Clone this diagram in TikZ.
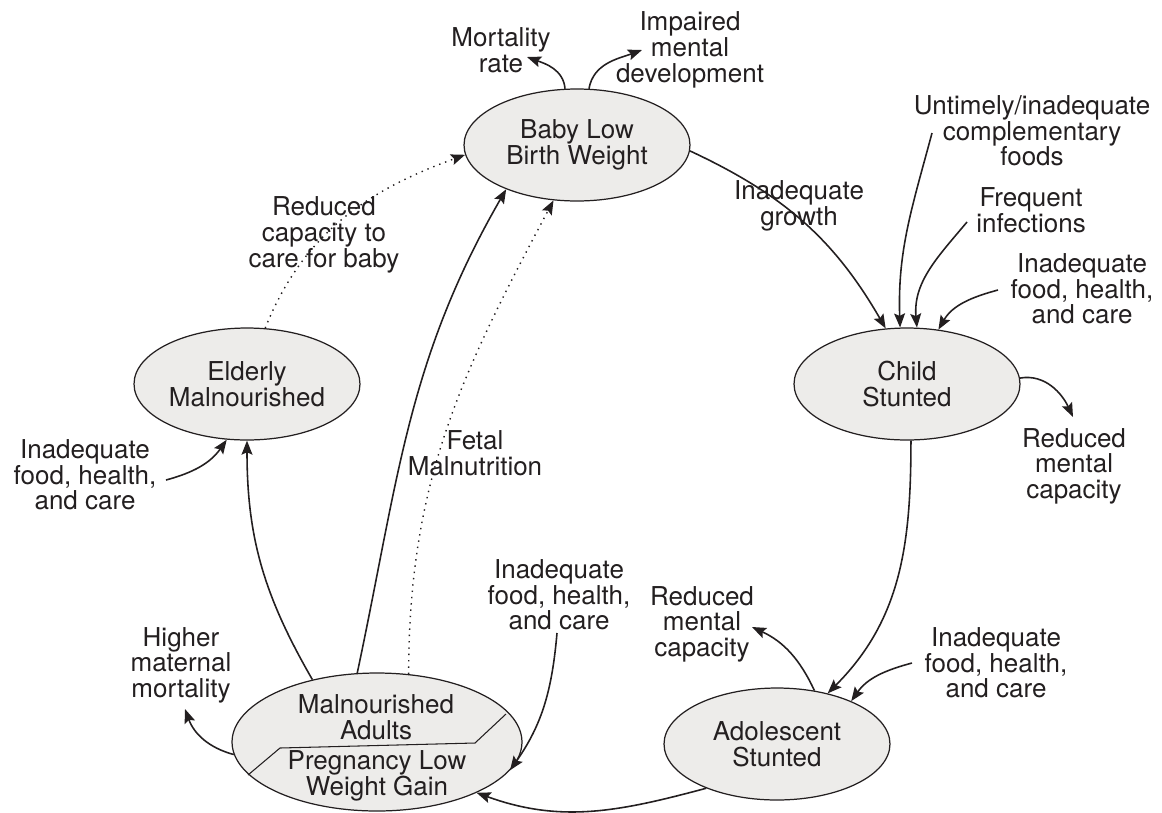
\documentclass[tikz,border=0pt]{standalone}
\usepackage{fontspec}
\setmainfont{TeX Gyre Heros}
\usepackage{tikz}
\usetikzlibrary{shapes.geometric, arrows.meta, calc}
\definecolor{cycGray}{RGB}{237,236,234}
\definecolor{cycInk}{RGB}{35,31,32}

\begin{document}
\begin{tikzpicture}[x=0.02cm, y=0.02cm,
    every node/.append style={font=\fontsize{14.8}{14.6}\selectfont},
    stage/.style={ellipse, draw=cycInk, line width=0.7pt, fill=cycGray, minimum width=4.52cm, minimum height=2.24cm, inner sep=0pt, align=center, text=cycInk},
    lbl/.style={align=center, inner sep=0pt, text=cycInk},
    flow/.style={-{Stealth[length=8pt, width=6.2pt, inset=1.4pt]}, line width=0.9pt, draw=cycInk},
    weak/.style={flow, line width=0.8pt, dash pattern=on 0.8pt off 2.8pt}]
  \useasboundingbox (0,0) rectangle (1162,-812);

  % Life stages
  \node[stage] (baby) at (577,-145) {Baby Low\\Birth Weight};
  \node[stage] (child) at (907,-384) {Child\\Stunted};
  \node[stage] (teen) at (777,-744) {Adolescent\\Stunted};
  \node[stage] (elder) at (247,-384) {Elderly\\Malnourished};
  \node[stage, minimum width=5.8cm, minimum height=2.76cm] (adult) at (377,-742) {};
  \draw[cycInk, line width=0.6pt] ($(adult.center)+(-129,-33)$) -- ++(32,27) -- ++(195,5) -- ($(adult.center)+(129,28)$);
  \node[lbl] (adultTxt) at ($(adult.center)+(-1,25)$) {Malnourished\\Adults};
  \node[lbl] (pregTxt) at ($(adult.center)+(0,-34)$) {Pregnancy Low\\Weight Gain};

  % Labels
  \node[lbl] (mortality) at (501,-50) {Mortality\\rate};
  \node[lbl] (impaired) at (690,-50) {Impaired\\mental\\development};
  \node[lbl] (untimely) at (1032,-131) {Untimely/inadequate\\complementary\\foods};
  \node[lbl] (infect) at (1031,-210) {Frequent\\infections};
  \node[lbl] (growth) at (799,-206) {Inadequate\\growth};
  \node[lbl] (careC) at (1082,-289) {Inadequate\\food, health,\\and care};
  \node[lbl] (mentalC) at (1074,-466) {Reduced\\mental\\capacity};
  \node[lbl] (mentalT) at (702,-624) {Reduced\\mental\\capacity};
  \node[lbl] (careT) at (996,-663) {Inadequate\\food, health,\\and care};
  \node[lbl] (careA) at (559,-595) {Inadequate\\food, health,\\and care};
  \node[lbl] (maternal) at (181,-665) {Higher\\maternal\\mortality};
  \node[lbl] (fetal) at (475,-453) {Fetal\\Malnutrition};
  \node[lbl] (babycare) at (324,-235) {Reduced\\capacity to\\care for baby};
  \node[lbl] (careE) at (85,-475) {Inadequate\\food, health,\\and care};

  % Free ends
  \coordinate (mortalityIn) at (527,-57);
  \coordinate (impairedIn) at (642,-50);
  \coordinate (untimelyOut) at (932,-133);
  \coordinate (infectOut) at (967,-222);
  \coordinate (careCOut) at (998,-290);
  \coordinate (mentalCIn) at (1073,-417);
  \coordinate (mentalTIn) at (752,-627);
  \coordinate (careTOut) at (912,-663);
  \coordinate (careAOut) at (557,-633);
  \coordinate (maternalIn) at (185,-709);
  \coordinate (careEOut) at (166,-480);

  % Arrows
  \draw[flow] (baby.102) to[out=95, in=-20] (mortalityIn);
  \draw[flow] (baby.78) to[out=80, in=200] (impairedIn);
  \draw[flow] (baby.-3) to[out=-25, in=120] (child.111);
  \draw[flow] (untimelyOut) to[out=-105, in=92] (child.97);
  \draw[flow] (infectOut) to[out=-130, in=95] (child.80);
  \draw[flow] (careCOut) to[out=195, in=60] (child.60);
  \draw[flow] (child.3) to[out=10, in=115] (mentalCIn);
  \draw[flow] (child.-86) to[out=-90, in=45] (teen.45);
  \draw[flow] (careTOut) to[out=195, in=55] (teen.30);
  \draw[flow] (teen.55) to[out=115, in=-25] (mentalTIn);
  \draw[flow] (teen.-148) to[out=-165, in=-20] (adult.-27);
  \draw[flow] (careAOut) to[out=-95, in=55] (adult.-12);
  \draw[flow] (adult.136) to[out=120, in=-90] (elder.-90);
  \draw[flow] (adult.106) to[out=78, in=-120] (baby.-148);
  \draw[weak] (adult.65) to[out=90, in=-118] (baby.-113);
  \draw[weak] (elder.72) to[out=68, in=200] (baby.185);
  \draw[flow] (careEOut) to[out=15, in=-125] (elder.-110);
  \draw[flow] (adult.185) to[out=165, in=-70] (maternalIn);
\end{tikzpicture}
\end{document}
